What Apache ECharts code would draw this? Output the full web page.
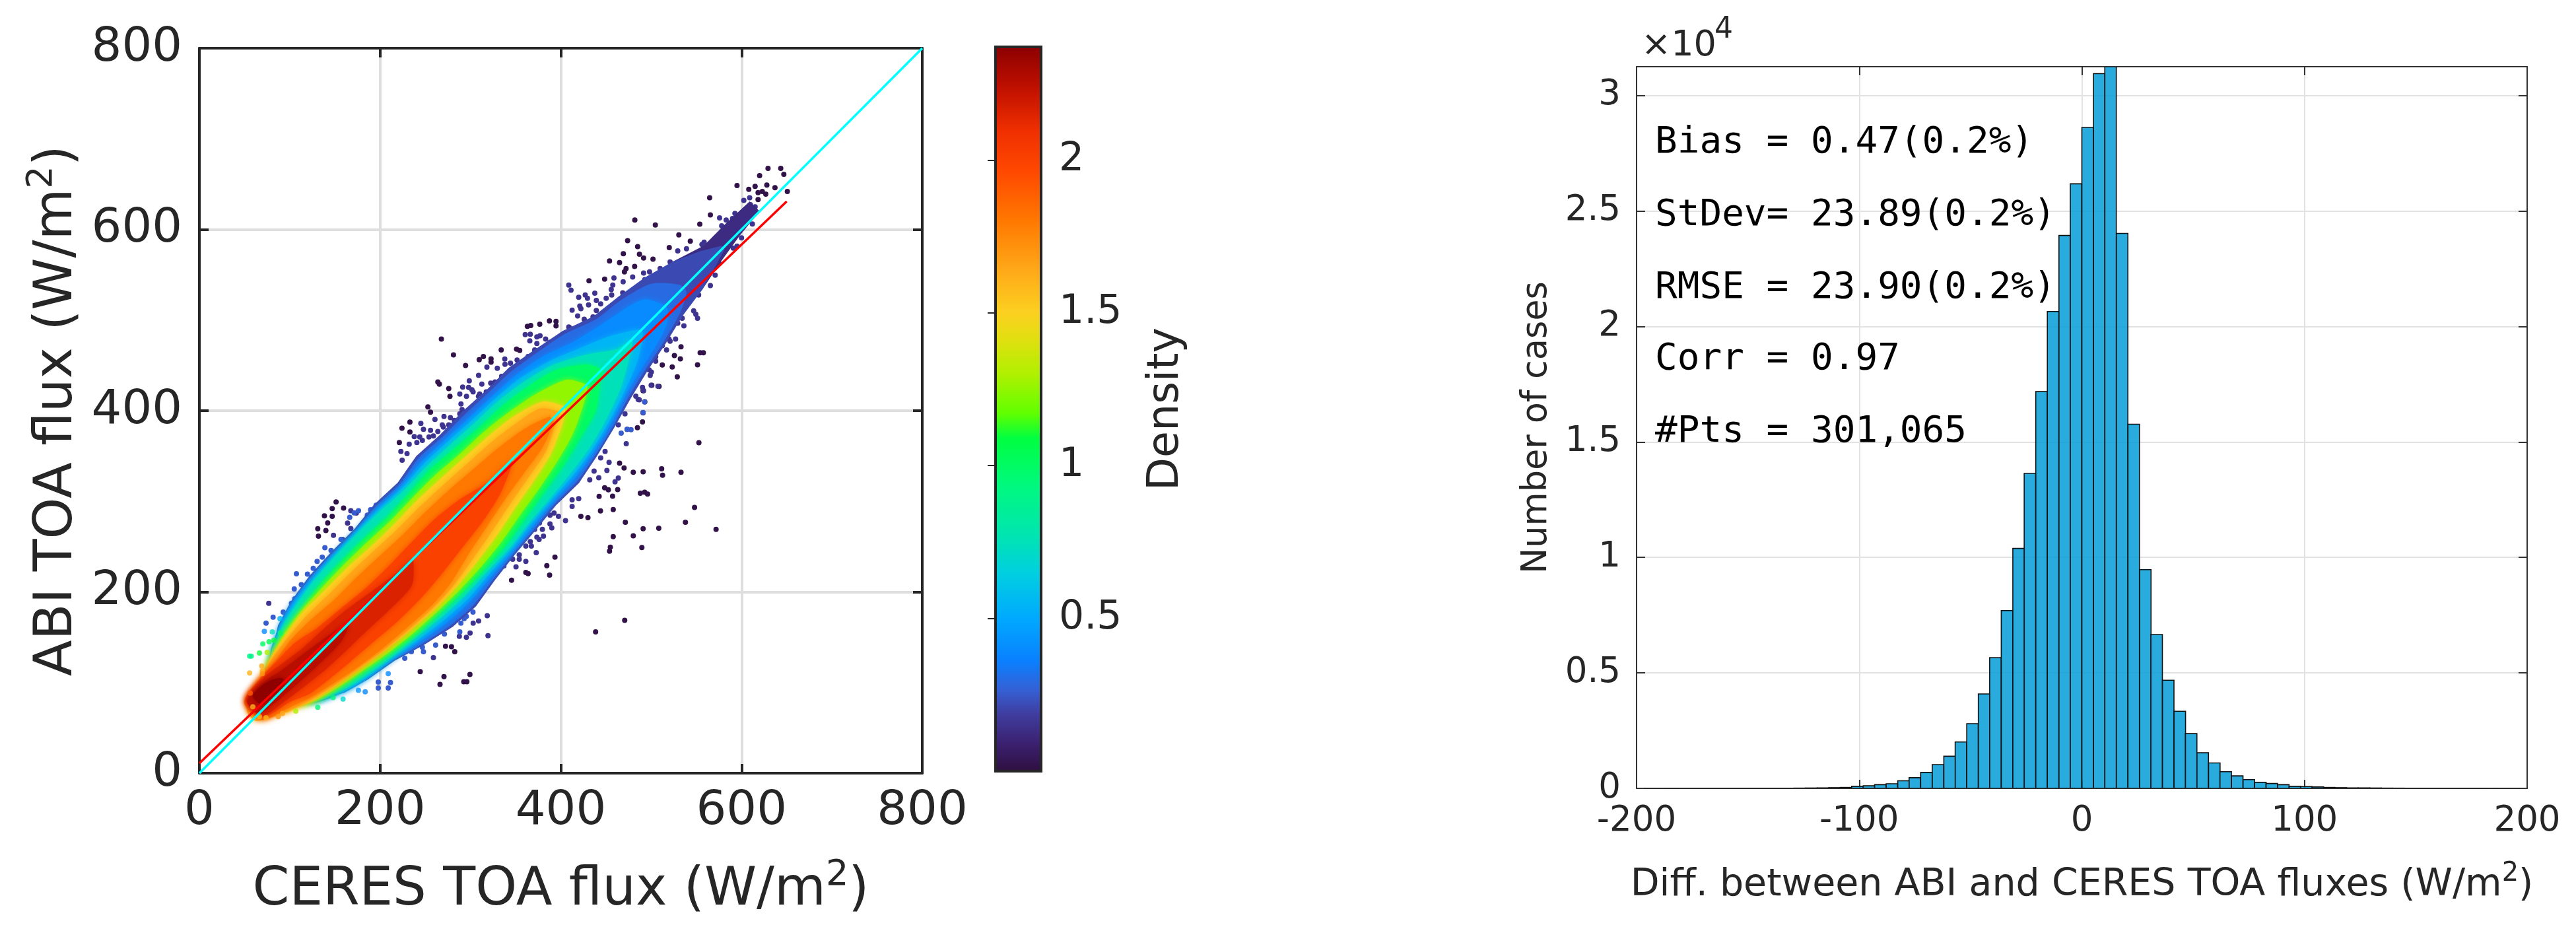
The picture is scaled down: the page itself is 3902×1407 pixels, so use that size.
<!DOCTYPE html>
<html><head><meta charset="utf-8">
<style>html,body{margin:0;padding:0;background:#fff}#c{width:3902px;height:1407px}</style>
<script src="https://cdn.jsdelivr.net/npm/echarts@6/dist/echarts.min.js"></script>
</head><body><div id="c"></div>
<script>
// ---------- colour scale: [density, colour]
var colorStops=[[0,'#2e0f3e'],[0.095,'#3b2170'],[0.19,'#3f3d9f'],[0.27,'#3560d5'],[0.364,'#0a80ff'],[0.5,'#00a8ff'],[0.65,'#00cfe0'],[0.775,'#00e5b0'],[0.93,'#00f880'],[1.09,'#00ff40'],[1.17,'#60ff00'],[1.3,'#b0f000'],[1.41,'#e0e010'],[1.5,'#fcd020'],[1.64,'#ffa818'],[1.8,'#ff7800'],[1.96,'#ff4800'],[2.09,'#f03000'],[2.23,'#c01000'],[2.37,'#8b0000']];
var densityMax=2.37;
var densityTicks=[0.5,1,1.5,2];

// ---------- density contours: [position along the diagonal, upper offset, lower offset]
var contourTail=[[530,48,-26],[545,40,-23],[570,24,-13],[595,24,-5],[620,22,0]];
var contour022=[[100,44,-44],[125,76,-72],[145,88,-83],[170,96,-92],[195,98,-107],[221,98,-119],[245,103,-122],[270,101,-114],[295,110,-108],[320,107,-104],[345,108,-99],[370,105,-100],[395,105,-90],[420,96,-78],[445,86,-64],[470,68,-52],[495,62,-42],[520,54,-30],[545,40,-23],[565,22,-12],[580,4,-3]];
var contour030=[[100,43,-43],[125,74,-71],[145,86,-82],[170,93,-90],[195,95,-104],[221,95,-115],[245,99,-118],[270,97,-111],[295,105,-105],[320,102,-101],[345,102,-96],[370,100,-96],[395,98,-87],[420,90,-75],[445,80,-60],[470,62,-48],[495,55,-38],[520,40,-24],[535,8,-8]];
var contour040=[[100,42,-42],[125,72,-70],[145,84,-80],[170,90,-88],[195,92,-99],[221,93,-108],[245,95,-110],[270,93,-106],[295,98,-102],[320,96,-97],[345,94,-92],[370,92,-90],[395,89,-82],[420,80,-70],[445,62,-54],[470,50,-42],[495,40,-30],[508,30,-20],[515,4,-6]];
var contour055=[[100,41,-41],[125,70,-68],[145,81,-79],[170,88,-86],[195,91,-95],[221,92,-102],[245,92,-105],[270,90,-101],[295,93,-98],[320,91,-92],[345,88,-88],[370,86,-85],[395,81,-78],[420,68,-66],[445,48,-50],[470,26,-30],[488,3,-6]];
var contour075=[[100,40,-40],[125,68,-66],[145,78,-76],[170,86,-84],[195,89,-90],[221,90,-96],[245,89,-98],[270,86,-96],[295,87,-95],[320,85,-89],[345,82,-85],[370,80,-80],[395,73,-73],[420,60,-60],[445,34,-42],[465,6,-20],[478,0,-3]];
var contour100=[[95,40,-36],[104,50,-50],[125,63,-62],[145,69,-71],[170,75,-80],[195,77,-87],[221,77,-90],[245,75,-92],[270,77,-91],[295,80,-88],[320,76,-80],[345,72,-72],[370,70,-64],[395,63,-52],[420,50,-38],[440,22,-8],[446,-2,-3]];
var contour125=[[92,40,-35],[104,49,-48],[125,60,-59],[145,66,-67],[170,69,-76],[195,70,-82],[221,69,-85],[245,67,-86],[270,68,-84],[295,68,-79],[320,64,-70],[345,62,-62],[370,56,-52],[395,46,-38],[420,28,-14],[428,3,-3]];
var contour150=[[80,34,-26],[90,38,-36],[104,49,-46],[125,57,-55],[145,63,-62],[170,63,-70],[195,63,-76],[221,60,-80],[245,59,-79],[270,60,-74],[295,58,-67],[320,55,-57],[345,52,-48],[370,46,-37],[395,30,-15],[404,3,-2]];
var contour165=[[60,14,-4],[70,32,-18],[90,39,-34],[104,46,-43],[125,52,-53],[145,55,-60],[170,54,-68],[195,54,-73],[221,52,-76],[245,50,-74],[270,50,-66],[295,48,-57],[320,45,-47],[345,42,-38],[370,35,-28],[390,25,-8],[398,3,-2]];
var contour180=[[64,29,-10],[90,38,-30],[104,40,-40],[125,46,-50],[145,46,-58],[170,42,-65],[195,42,-69],[221,40,-72],[245,38,-68],[270,38,-56],[295,36,-46],[320,32,-36],[345,28,-28],[370,20,-20],[390,6,-4]];
var contour200=[[66,30,-8],[90,37,-22],[104,38,-34],[125,38,-40],[145,30,-44],[170,25,-48],[195,20,-52],[221,19,-52],[245,20,-48],[270,20,-42],[295,14,-36],[320,2,-25],[345,-1,-4]];
var contour215=[[66,28,-6],[90,34,-16],[104,30,-20],[125,24,-25],[145,22,-27],[170,18,-28],[195,10,-30],[221,2,-28],[235,0,-4]];
var contour225=[[66,26,0],[80,30,-6],[90,28,-8],[104,22,-10],[125,16,-12],[150,8,-12],[165,2,-2]];
var contour236=[[72,26,8],[80,28,4],[90,24,4],[98,14,6]];
var contourLevels=[0.13,0.22,0.3,0.4,0.55,0.75,1.0,1.25,1.5,1.65,1.8,2.0,2.15,2.25,2.36];
var contourTables=[contourTail,contour022,contour030,contour040,contour055,contour075,contour100,contour125,contour150,contour165,contour180,contour200,contour215,contour225,contour236];

// ---------- individual points: [CERES flux, ABI flux]
var sparsePoints=[[552.8,364.7],[511.6,335.8],[512.6,328.8],[533,332],[480.2,332],[491.1,332.6],[448.5,315],[452.6,312.7],[462.9,313],[442.4,305.4],[457.3,305.7],[488,309],[492.8,310],[496,308],[548,293.3],[443.9,289.4],[458,290.9],[471.4,276.8],[537.9,276.8],[491.1,269.7],[508.4,270.4],[571.8,269],[458,261],[480.2,262],[454.8,249.3],[453.9,245],[489.7,249],[470.7,168.6],[438.5,156],[267.8,479],[281.2,461.6],[294.6,449.9],[309.7,456.3],[314.3,459.7],[322.8,457.2],[322.8,453.6],[334,467],[351,468],[354.5,466.5],[363,493],[366.7,494],[376.7,495.4],[387.4,499],[394.7,498.5],[394.7,493.7],[263.9,431.7],[265.6,429.3],[276,424.4],[277.3,415.9],[252.9,404.2],[255.8,398.4],[233,387.5],[224.2,380.7],[233,376.5],[221.3,364.9],[151.3,299.3],[147,292],[159.6,292.5],[138.4,284],[147,283.5],[142,276.2],[140,267.7],[131,269.7],[131.8,261.6],[244.4,112],[266.3,98],[270.7,106.6],[292.6,101],[296,101],[299.4,109],[282.6,134],[272.4,140],[279,139.6],[361.3,221.5],[363.8,220.3],[387.6,218.6],[384.5,229],[393.5,238.5],[345.5,213],[422.2,283.5],[430,282],[629.3,667.4],[643.4,667.4],[646.8,660.8],[620,659.4],[595,648.4],[608,644.3],[615,647.5],[628,649],[637,646],[650.7,641.9],[618.3,640.6],[623,641.9],[626.8,639],[618.3,632.9],[564.7,635],[481.9,610.3],[504.6,605],[530.6,594],[553.8,605.9],[565.5,616],[473.9,587.7],[485,581],[520,580],[543.3,587],[469.2,573.3],[487,572.6],[491.6,568.5],[453.9,565.3],[465,563.4],[502,567.3],[472.2,556.8],[470.4,553.2],[481.7,559.2],[448.5,545.1],[431.2,543.4],[551.3,450.6],[554.2,464],[557.7,464],[532.3,457.2],[525.7,460.8],[528.9,437.3],[523.3,448.2],[533,470.5],[508.7,426.8],[500.7,428],[512.3,450.4],[491,422],[492.9,409.8],[491,397.6],[490.4,387.6],[484.8,381.3],[465,342],[470,336.8]];
var indigoPoints=[[472.4,363.5],[453.4,343],[451,334],[442,326],[463.6,325.6],[460,321.5],[318.2,448],[360.6,484],[366.2,484.4],[365.7,477],[373.5,481.5],[377,482.7],[291.4,426],[298.7,432.9],[309,439],[312.6,429.3],[288.2,418.4],[289.5,407.4],[277.8,392.3],[270.7,393.6],[260.7,390.4],[268.8,384.3],[245.1,386],[248,379.5],[255.8,378.3],[237.8,371.4],[243.9,371],[232.2,363],[223,355],[229.8,352.7],[224.4,345.4],[338,457],[329.7,446.8],[301.6,423.2],[308.9,415.9],[419.8,303],[412.5,294.4],[405.2,278.6],[397.4,283.5],[392.5,287],[388,275],[390,270.6],[376.4,276.2],[371,269],[379.6,269],[380.8,261.6],[376,258],[367.4,250.7],[372.8,243.4],[361.3,233.7],[350.4,227.6],[354,236],[167.6,289.6],[173.7,287],[164,276],[167.6,270],[148.4,262.4],[158.4,258],[76.8,187.5],[259,127.5],[295.5,150],[287.7,151],[299.6,154.7],[309,168],[303,165.6],[318.6,173.7],[319.4,151.8],[458.8,546.4],[498.2,553.2],[491.6,552],[479.5,547.6],[469,542.2],[492.9,544.7],[457.5,538.6],[455.8,533.7],[408.8,538.6],[411.3,533],[419.8,525.2],[427,527.6],[429.5,524],[437.6,529.6],[430.7,516.7],[439.3,521.6],[412.5,511],[421,515.5],[422.2,512.6],[418.6,504.6],[425.9,500.9],[435.6,503.4],[444.1,517.9],[408.8,492.4],[536.2,493.6],[529.4,496.5],[534.3,502],[551.3,502],[549.4,506.3],[547,510.2],[565.5,538],[552.5,527.6],[570.8,549.5],[600,590.8],[612,606],[590.8,579.4],[595,581.6],[575,562.9],[520.9,476.6],[527,479],[517,467],[505,454.7],[498.9,439],[483,416],[486.8,412],[507.5,426.9],[500,428],[491.6,422],[485.6,412.3],[609,635],[615,625],[604,618],[590,612],[578,604],[575.7,612.7],[583,610.3],[592.7,617.6],[602.5,632.1],[609.8,627.3],[556.2,583.5],[558.6,586],[539.1,578.7],[529.4,576.3],[520.9,564.1],[509.9,556.8],[502.6,542.2],[490.4,539.8],[480.7,533.7],[468.5,530],[456.3,527.6],[450.2,524],[439.3,510.6],[240.7,364.9],[246.8,367.3],[254.1,371],[259,372.2],[263.9,377],[270,381.9],[276,384.3],[282.2,389.2],[288.2,396.5],[290.7,401.3],[295.6,415.9],[302.9,420.8],[298,425.6],[310.2,418.4],[317.5,420.8],[322.4,430.5],[327.2,431.7],[334.5,437.8],[341.8,441.4],[338.2,451.2],[344.3,452.4],[351.6,456],[356.5,452.4],[363.8,459.7],[371.1,467],[373.5,474.2],[383.2,479.1],[388.1,475.5],[393,471.8],[410,491.3],[419.8,492.5],[427.1,498.5],[432,492.5],[337,228.8],[346.7,236],[354,241],[361.3,250.7],[366.2,255.5],[373.5,260.4],[388.1,284.7],[412.5,301.7],[432,323.6],[436.8,333.3],[444.1,347.9],[449,355],[463.6,384.3],[473.4,379.5],[471,396.5],[490.4,425.6],[497.7,445],[536.7,520.4],[529.4,508.2],[522.1,493.6],[519.7,479],[512.3,471.8],[505,459.6],[500.2,442.6]];
var bluePoints=[[492.8,409.7],[491,398],[466.8,375.2],[477.7,379],[473.3,379.5],[138.9,248.8],[145.7,245.8],[130.3,233.7],[136,238.5],[107.4,220],[119.6,219.6],[126,226],[105,203.3],[112.8,208],[92.8,177.8],[81.6,172.2],[73.8,165.6],[198,94],[198,100.5],[209,94],[211.5,100],[248,134],[227.3,126.8],[166.4,282.3],[171.3,287.2],[176.1,289.6],[185.9,284.7],[189.5,290.8],[195.6,295.7],[156.7,258],[101.9,187.5],[105.5,192.4],[234.6,134],[246.8,138.9],[261.4,141.3],[271.2,153.5],[288.2,156],[295.5,173],[302.8,177.8],[289.4,165.6],[280.9,173],[293,170.5]];
var colouredPoints=[[71.9,156.4,0.4],[89.2,170.5,0.55],[80.7,156,0.75],[89.7,154.7,1.0],[70.2,142.6,1.0],[77,145,1.05],[82.4,146.7,1.1],[55.6,129.2,0.9],[57.5,129.2,0.9],[66.5,132.6,1.1],[75,133.3,1.3],[69,118.3,1.62],[69.7,113,1.62],[69.7,109.8,1.7],[55.6,110.5,1.6],[56.3,88.4,1.9],[59.2,73.3,1.6],[131,72.6,0.95],[106.7,68.4,1.3],[87.2,62.4,1.7],[92,66,1.65],[73.8,61.2,1.6],[66.5,62.4,1.6],[159,81.8,0.7],[148,83.5,0.95],[176,91.5,0.45],[183.5,89.8,0.4],[209,109.8,0.4]];

// ---------- reference lines
var fitLine=[[0,11],[650,631]];
var oneToOneLine=[[0,0],[800,800]];

// ---------- histogram
var binWidth=5.17;
var binLeftEdges=[-196.5,-191.3,-186.1,-181,-175.8,-170.6,-165.4,-160.3,-155.1,-149.9,-144.8,-139.6,-134.4,-129.3,-124.1,-118.9,-113.7,-108.6,-103.4,-98.2,-93.1,-87.9,-82.7,-77.6,-72.4,-67.2,-62,-56.9,-51.7,-46.5,-41.4,-36.2,-31,-25.9,-20.7,-15.5,-10.3,-5.2,0,5.2,10.3,15.5,20.7,25.9,31,36.2,41.4,46.5,51.7,56.9,62,67.2,72.4,77.6,82.7,87.9,93.1,98.2,103.4,108.6,113.7,118.9,124.1,129.3,134.4,139.6,144.8,149.9,155.1,160.3,165.4,170.6,175.8,181,186.1,191.3];
var binCounts=[1,1,2,1,2,2,3,2,3,4,5,5,6,10,15,20,30,40,90,110,160,200,330,460,690,1030,1390,2010,2800,4090,5660,7700,10390,13640,17180,20650,23940,26180,28620,30950,31250,24030,15770,9470,6660,4680,3340,2370,1540,1100,720,540,380,260,210,160,90,80,60,40,30,20,20,15,10,8,6,5,4,3,3,2,2,1,1,1];
var statLines=['Bias = 0.47(0.2%)','StDev= 23.89(0.2%)','RMSE = 23.90(0.2%)','Corr = 0.97','#Pts = 301,065'];

var FONT='DejaVu Sans', INK='#262626';
function densityColor(v){
  for(var i=1;i<colorStops.length;i++){
    if(v<=colorStops[i][0]){
      var a=colorStops[i-1],b=colorStops[i],t=(v-a[0])/(b[0]-a[0]);
      var p=function(h,k){return parseInt(h.substr(k,2),16)};
      var m=function(k){return Math.round(p(a[1],k)+(p(b[1],k)-p(a[1],k))*t)};
      return 'rgb('+m(1)+','+m(3)+','+m(5)+')';
    }
  }
  return colorStops[colorStops.length-1][1];
}
function contourToXY(table){
  var upper=table.map(function(r){return [r[0]-r[1]/2,r[0]+r[1]/2]});
  var lower=table.map(function(r){return [r[0]-r[2]/2,r[0]+r[2]/2]}).reverse();
  return upper.concat(lower);
}
function dots(points,density,size,z){
  return {type:'scatter',xAxisIndex:0,yAxisIndex:0,data:points,symbolSize:size||8,silent:true,z:z||2,
    itemStyle:{color:densityColor(density),opacity:1}};
}
function richTitle(big,sup,tail){
  return '{a|'+big+'}{s|'+sup+'}{a|'+tail+'}';
}
function axisBase(min,max,interval,grid,position,extra){
  var o={type:'value',min:min,max:max,interval:interval,gridIndex:grid,position:position,
    axisLine:{show:true,onZero:false,lineStyle:{color:INK,width:4}},
    axisTick:{show:true,inside:true,length:14,lineStyle:{color:INK,width:4}},
    axisLabel:{show:false},splitLine:{show:false}};
  for(var k in extra){o[k]=extra[k]}
  return o;
}
var hist={w:2,tick:2,color:'#333'};
var option={
  animation:false,backgroundColor:'#fff',
  textStyle:{fontFamily:FONT},
  grid:[
    {left:302,top:73,width:1095,height:1098},
    {left:1508,top:71,width:69,height:1097},
    {left:2479,top:101,width:1349,height:1093}
  ],
  xAxis:[
    axisBase(0,800,200,0,'bottom',{
      axisLabel:{show:true,fontSize:72,color:INK,fontFamily:FONT,margin:22},
      splitLine:{show:true,lineStyle:{color:'#dedede',width:4}},
      name:richTitle('CERES TOA flux (W/m','2',')'),nameLocation:'middle',nameGap:128,
      nameTextStyle:{rich:{a:{fontSize:80,color:INK,fontFamily:FONT,lineHeight:100},s:{fontSize:54,color:INK,fontFamily:FONT,verticalAlign:'top',lineHeight:100}}}
    }),
    axisBase(0,800,200,0,'top',{}),
    {type:'value',min:0,max:1,gridIndex:1,show:false},
    axisBase(-200,200,100,2,'bottom',{
      axisLine:{show:true,onZero:false,lineStyle:{color:hist.color,width:hist.w}},
      axisTick:{show:true,inside:true,length:13,lineStyle:{color:hist.color,width:hist.tick}},
      axisLabel:{show:true,fontSize:53,color:INK,fontFamily:FONT,margin:24,formatter:function(v){return v<0?'-'+Math.abs(v):''+v}},
      splitLine:{show:true,lineStyle:{color:'#e2e2e2',width:2}},
      name:richTitle('Diff. between ABI and CERES TOA fluxes (W/m','2',')'),nameLocation:'middle',nameGap:110,
      nameTextStyle:{rich:{a:{fontSize:57,color:INK,fontFamily:FONT,lineHeight:74},s:{fontSize:40,color:INK,fontFamily:FONT,verticalAlign:'top',lineHeight:74}}}
    }),
    axisBase(-200,200,100,2,'top',{
      axisLine:{show:true,onZero:false,lineStyle:{color:hist.color,width:hist.w}},
      axisTick:{show:true,inside:true,length:13,lineStyle:{color:hist.color,width:hist.tick}}
    })
  ],
  yAxis:[
    axisBase(0,800,200,0,'left',{
      axisLabel:{show:true,fontSize:72,color:INK,fontFamily:FONT,margin:26},
      splitLine:{show:true,lineStyle:{color:'#dedede',width:4}},
      name:richTitle('ABI TOA flux (W/m','2',')'),nameLocation:'middle',nameGap:165,nameRotate:90,
      nameTextStyle:{rich:{a:{fontSize:80,color:INK,fontFamily:FONT,lineHeight:100},s:{fontSize:54,color:INK,fontFamily:FONT,verticalAlign:'top',lineHeight:100}}}
    }),
    axisBase(0,800,200,0,'right',{}),
    {type:'value',min:0,max:densityMax,gridIndex:1,position:'right',
      axisLine:{show:false},splitLine:{show:false},
      axisTick:{show:true,inside:true,length:12,lineStyle:{color:INK,width:2},customValues:densityTicks},
      axisLabel:{show:true,fontSize:60,color:INK,fontFamily:FONT,margin:27,customValues:densityTicks},
      name:'Density',nameLocation:'middle',nameGap:158,nameRotate:90,
      nameTextStyle:{fontSize:65,color:INK,fontFamily:FONT}
    },
    axisBase(0,31250,5000,2,'left',{
      axisLine:{show:true,onZero:false,lineStyle:{color:hist.color,width:hist.w}},
      axisTick:{show:true,inside:true,length:13,lineStyle:{color:hist.color,width:hist.tick}},
      axisLabel:{show:true,fontSize:53,color:INK,fontFamily:FONT,margin:24,showMaxLabel:false,formatter:function(v){return ''+(v/10000)}},
      splitLine:{show:true,lineStyle:{color:'#e2e2e2',width:2}},
      name:'Number of cases',nameLocation:'middle',nameGap:124,nameRotate:90,
      nameTextStyle:{fontSize:52.5,color:INK,fontFamily:FONT}
    }),
    axisBase(0,31250,5000,2,'right',{
      axisLine:{show:true,onZero:false,lineStyle:{color:hist.color,width:hist.w}},
      axisTick:{show:true,inside:true,length:13,lineStyle:{color:hist.color,width:hist.tick}}
    })
  ],
  series:[],
  graphic:[]
};
option.series.push(dots(sparsePoints,0.02));
option.series.push(dots(indigoPoints,0.16));
option.series.push(dots(bluePoints,0.26));
// density contours, lowest density first
contourTables.forEach(function(table,i){
  option.series.push({type:'custom',xAxisIndex:0,yAxisIndex:0,silent:true,z:3+i*0.01,data:[[0,0]],
    renderItem:function(params,api){
      return {type:'polygon',shape:{points:contourToXY(table).map(function(p){return api.coord(p)}),smooth:i>1?0.25:0},
        style:{fill:densityColor(contourLevels[i]),shadowBlur:i>2?10:0,shadowColor:densityColor(contourLevels[i])}};
    }});
});
option.series.push({type:'scatter',xAxisIndex:0,yAxisIndex:0,silent:true,z:4,symbolSize:8,
  data:colouredPoints.map(function(p){return {value:[p[0],p[1]],itemStyle:{color:densityColor(p[2])}}})});
option.series.push({type:'line',xAxisIndex:0,yAxisIndex:0,data:fitLine,showSymbol:false,silent:true,z:5,lineStyle:{color:'#ff0000',width:3.5}});
option.series.push({type:'line',xAxisIndex:0,yAxisIndex:0,data:oneToOneLine,showSymbol:false,silent:true,z:6,lineStyle:{color:'#00ffff',width:3.5}});
// colour bar
option.series.push({type:'custom',xAxisIndex:2,yAxisIndex:2,silent:true,data:[[0,0,1,densityMax]],
  renderItem:function(params,api){
    var a=api.coord([api.value(0),api.value(1)]),b=api.coord([api.value(2),api.value(3)]);
    return {type:'rect',shape:{x:a[0],y:b[1],width:b[0]-a[0],height:a[1]-b[1]},
      style:{fill:{type:'linear',x:0,y:1,x2:0,y2:0,colorStops:colorStops.map(function(s){return {offset:s[0]/densityMax,color:s[1]}})},stroke:INK,lineWidth:4}};
  }});
// histogram
option.series.push({type:'custom',xAxisIndex:3,yAxisIndex:3,silent:true,z:3,clip:true,
  data:binLeftEdges.map(function(e,i){return [e,binCounts[i]]}),
  renderItem:function(params,api){
    var a=api.coord([api.value(0),0]),b=api.coord([api.value(0)+binWidth,api.value(1)]);
    return {type:'rect',shape:{x:a[0],y:b[1],width:b[0]-a[0],height:a[1]-b[1]},
      style:{fill:'rgba(0,155,215,0.84)',stroke:'#111',lineWidth:1.6}};
  }});
// texts
var statY=[216,326,436,544,654];
statLines.forEach(function(t,i){
  option.graphic.push({type:'text',x:2507,y:statY[i],z:20,silent:true,
    style:{text:t,fontFamily:'DejaVu Sans Mono',fontSize:56,fill:'#000',verticalAlign:'middle',align:'left'}});
});
option.graphic.push({type:'text',x:2486,y:70,z:20,silent:true,style:{text:'×10',fontFamily:FONT,fontSize:54,fill:INK,verticalAlign:'middle'}});
option.graphic.push({type:'text',x:2597,y:46,z:20,silent:true,style:{text:'4',fontFamily:FONT,fontSize:44,fill:INK,verticalAlign:'middle'}});
echarts.init(document.getElementById('c'),null,{renderer:'canvas',width:3902,height:1407}).setOption(option);
</script></body></html>
